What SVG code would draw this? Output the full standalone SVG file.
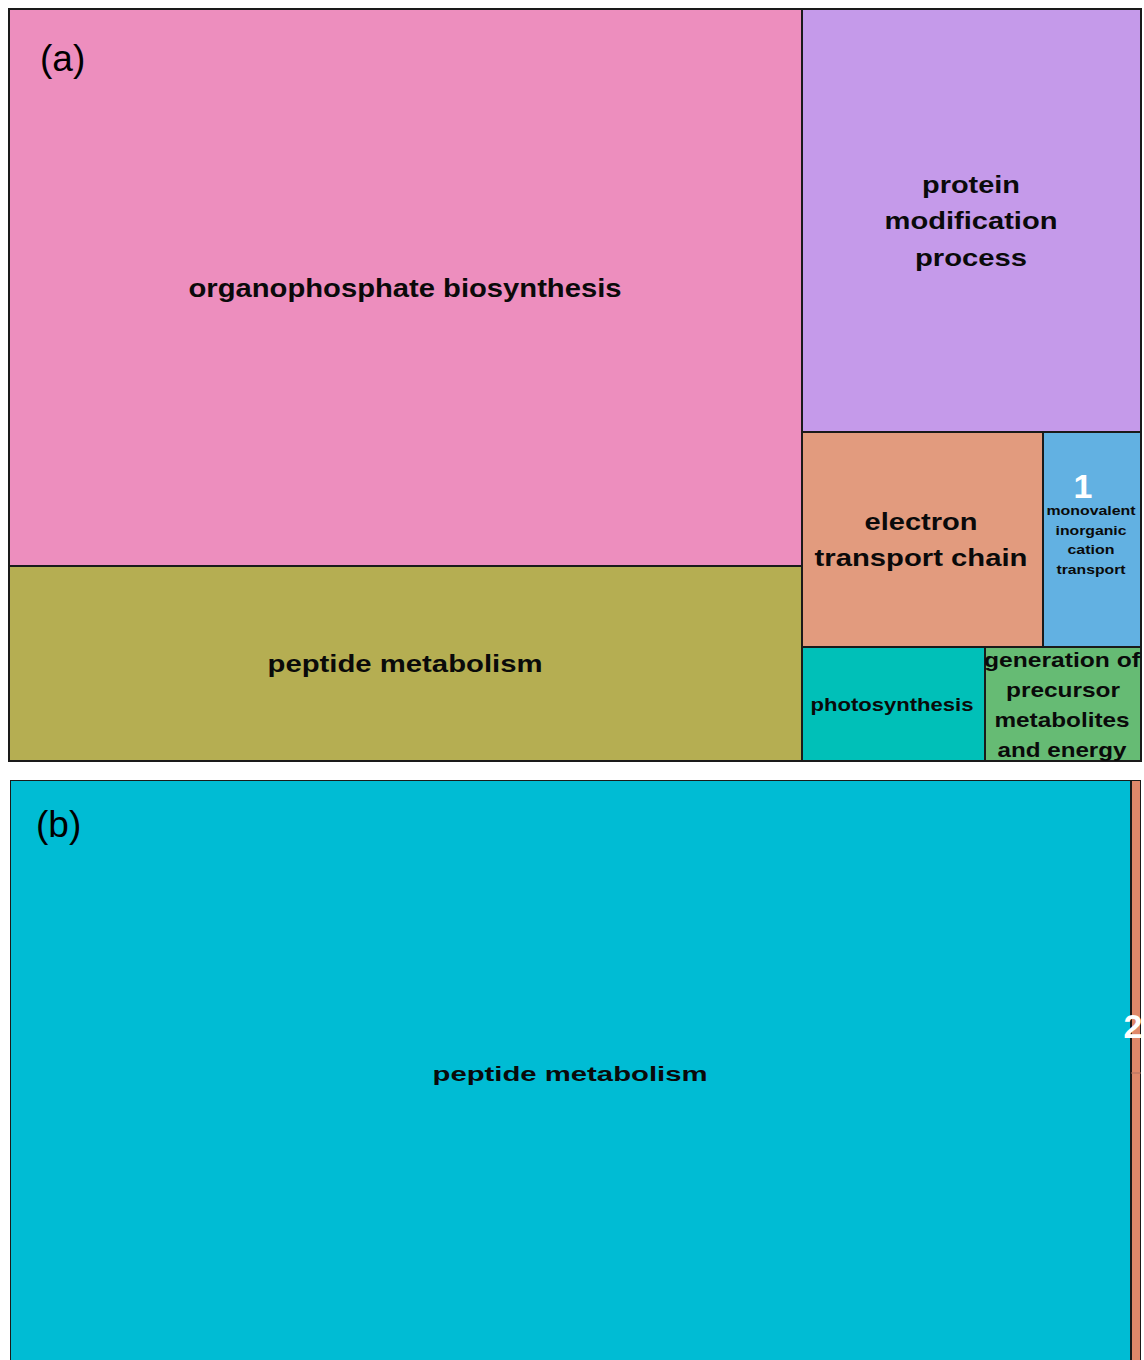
<svg xmlns="http://www.w3.org/2000/svg" width="1144" height="1360" viewBox="0 0 1144 1360">
<style>
.box{stroke:#1a1a1a;stroke-width:2}
.t{font-family:"Liberation Sans",Arial,sans-serif;font-weight:bold;fill:#0a0a0a;text-anchor:middle}
.w{font-family:"Liberation Sans",Arial,sans-serif;font-weight:bold;fill:#fff;text-anchor:middle}
.lab{font-family:"Liberation Sans",Arial,sans-serif;font-size:37px;fill:#000}
</style>
<defs>
<clipPath id="cg"><rect x="985" y="647" width="156" height="114"/></clipPath>
<clipPath id="cb"><rect x="10" y="780" width="1131" height="580"/></clipPath>
</defs>
<rect width="1144" height="1360" fill="#fff"/>
<g id="panel-a">
<g id="organophosphate"><rect class="box" x="9" y="9" width="793" height="557" fill="#ED8EBE"/>
<text class="t" x="405" y="297" font-size="25" textLength="433" lengthAdjust="spacingAndGlyphs">organophosphate biosynthesis</text></g>
<g id="peptide-a"><rect class="box" x="9" y="566" width="793" height="195" fill="#B5AE52"/>
<text class="t" x="405" y="672" font-size="24" textLength="275" lengthAdjust="spacingAndGlyphs">peptide metabolism</text></g>
<g id="protein"><rect class="box" x="802" y="9" width="339" height="423" fill="#C59AEA"/>
<text class="t" x="971" y="193" font-size="24" textLength="98" lengthAdjust="spacingAndGlyphs">protein</text>
<text class="t" x="971" y="229" font-size="24" textLength="173" lengthAdjust="spacingAndGlyphs">modification</text>
<text class="t" x="971" y="266" font-size="24" textLength="112" lengthAdjust="spacingAndGlyphs">process</text></g>
<g id="electron"><rect class="box" x="802" y="432" width="241" height="215" fill="#E29B7E"/>
<text class="t" x="921" y="530" font-size="24" textLength="113" lengthAdjust="spacingAndGlyphs">electron</text>
<text class="t" x="921" y="566" font-size="24" textLength="213" lengthAdjust="spacingAndGlyphs">transport chain</text></g>
<g id="monovalent"><rect class="box" x="1043" y="432" width="98" height="215" fill="#62B1E2"/>
<text class="w" x="1083" y="498" font-size="34">1</text>
<text class="t" x="1091" y="515" font-size="13" textLength="89" lengthAdjust="spacingAndGlyphs">monovalent</text>
<text class="t" x="1091" y="535" font-size="13" textLength="71" lengthAdjust="spacingAndGlyphs">inorganic</text>
<text class="t" x="1091" y="554" font-size="13" textLength="47" lengthAdjust="spacingAndGlyphs">cation</text>
<text class="t" x="1091" y="574" font-size="13" textLength="69" lengthAdjust="spacingAndGlyphs">transport</text></g>
<g id="photosynthesis"><rect class="box" x="802" y="647" width="183" height="114" fill="#00C0B8"/>
<text class="t" x="892" y="711" font-size="18" textLength="163" lengthAdjust="spacingAndGlyphs">photosynthesis</text></g>
<g id="generation"><rect class="box" x="985" y="647" width="156" height="114" fill="#66BB74"/>
<g clip-path="url(#cg)">
<text class="t" x="1062" y="667" font-size="21" textLength="156" lengthAdjust="spacingAndGlyphs">generation of</text>
<text class="t" x="1063" y="697" font-size="21" textLength="114" lengthAdjust="spacingAndGlyphs">precursor</text>
<text class="t" x="1062" y="727" font-size="21" textLength="135" lengthAdjust="spacingAndGlyphs">metabolites</text>
<text class="t" x="1062" y="757" font-size="21" textLength="129" lengthAdjust="spacingAndGlyphs">and energy</text></g></g>
<text class="lab" x="40" y="71">(a)</text>
</g>
<g id="panel-b">
<g clip-path="url(#cb)">
<g id="peptide-b"><rect class="box" x="10" y="780" width="1121" height="590" fill="#00BCD4"/>
<text class="t" x="570" y="1081" font-size="20" textLength="275" lengthAdjust="spacingAndGlyphs">peptide metabolism</text></g>
<g id="strip"><rect class="box" x="1131" y="780" width="10" height="590" fill="#E0886A"/>
<line x1="1131" y1="1073" x2="1141" y2="1073" stroke="#b07060" stroke-width="1"/></g>
</g>
<text class="w" x="1133" y="1038" font-size="34">2</text>
<text class="lab" x="36" y="837">(b)</text>
</g>
<g id="connectors"/>
</svg>
